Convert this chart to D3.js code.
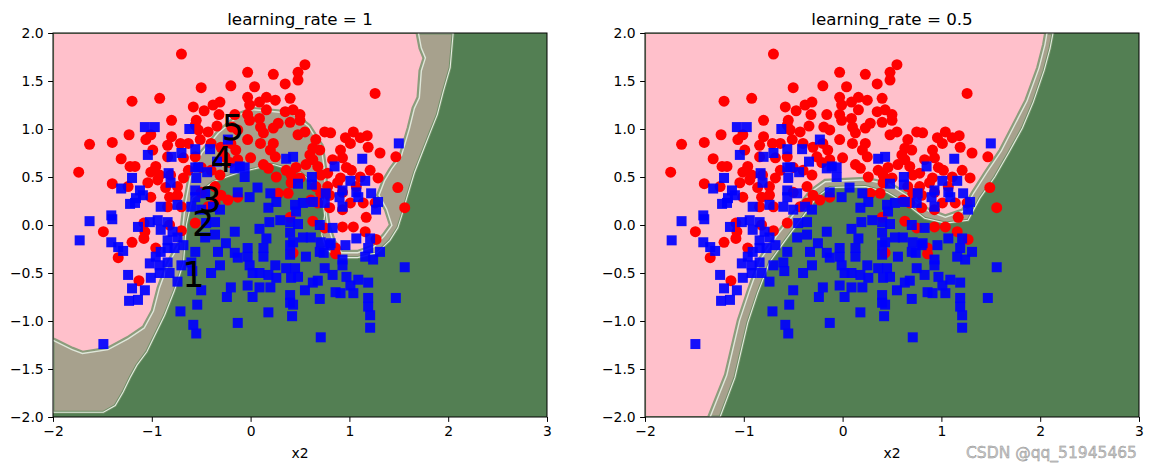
<!DOCTYPE html>
<html>
<head>
<meta charset="utf-8">
<script src="https://cdn.jsdelivr.net/npm/d3@7"></script>
<style>
  html, body { margin: 0; padding: 0; background: #ffffff; }
  svg { display: block; }
  text { font-family: "DejaVu Sans", sans-serif; }
</style>
</head>
<body>
<svg id="chart" width="1152" height="470"></svg>
<script>
// ---------------- DATA ----------------
const xTicks = [-2, -1, 0, 1, 2, 3];
const yTicks = [-2.0, -1.5, -1.0, -0.5, 0.0, 0.5, 1.0, 1.5, 2.0];
const titles = ["learning_rate = 1", "learning_rate = 0.5"];
const xLabel = "x2";

// class 0 (red circles)
const redPoints = [
  [-0.20,1.45],[-0.50,1.43],[-1.20,1.29],[-0.92,1.32],[-0.31,1.28],[-0.38,1.25],[-0.58,1.23],[-0.47,1.19],
  [-0.32,1.15],[-0.16,1.15],[-0.80,1.09],[-0.55,1.09],[-0.56,1.04],[-0.34,1.03],[-0.19,1.02],[-0.13,0.99],
  [-1.23,0.94],[-1.40,0.86],[-1.63,0.84],[-1.06,0.89],[-1.01,0.94],[-0.80,0.92],[-0.84,0.83],[-0.71,0.85],
  [-0.63,0.85],[-0.53,0.99],[-0.43,0.97],[-0.51,0.89],[-0.40,0.85],[-0.30,0.81],[-0.20,0.85],[-0.15,0.78],
  [-0.26,0.71],[-0.99,0.78],[-0.84,0.71],[-0.68,0.70],[-0.56,0.71],[-1.31,0.69],[-1.22,0.61],[-1.17,0.61],
  [-0.96,0.61],[-1.01,0.55],[-1.74,0.55],[-0.92,0.52],[-0.81,0.52],[-0.68,0.49],[-0.63,0.57],[-0.50,0.60],
  [-0.40,0.57],[-0.31,0.52],[-0.21,0.65],[-0.13,0.68],[-1.40,0.43],[-1.24,0.40],[-1.04,0.44],[-0.94,0.47],
  [-0.86,0.39],[-0.74,0.40],[-0.50,0.34],[-0.36,0.40],[-0.30,0.31],[-0.82,0.29],[-0.74,0.31],[-1.01,0.29],
  [-0.84,0.19],[-0.70,0.19],[-0.43,0.19],[-0.36,0.23],[-0.23,0.26],[-0.13,0.29],
  [-0.03,1.59],[0.23,1.57],[0.48,1.59],[0.55,1.67],[0.48,1.51],[0.35,1.47],[0.04,1.44],[1.26,1.37],
  [-0.03,1.33],[0.09,1.28],[0.16,1.33],[0.25,1.30],[0.40,1.32],[-0.01,1.25],[-0.03,1.15],[0.16,1.20],
  [0.09,1.11],[0.35,1.18],[0.43,1.20],[0.50,1.15],[0.40,1.07],[0.50,1.09],[0.28,1.06],[-0.01,1.09],
  [0.10,1.02],[0.23,1.01],[0.13,0.96],[0.55,0.97],[0.48,0.94],[-0.03,0.89],[0.10,0.85],[0.23,0.85],
  [0.20,0.78],[0.25,0.71],[0.00,0.70],[0.66,0.89],[0.75,0.97],[0.81,0.96],[1.04,0.97],[0.96,0.91],
  [1.11,0.91],[1.18,0.93],[0.63,0.80],[0.70,0.78],[0.91,0.78],[1.01,0.85],[1.19,0.81],[1.31,0.75],
  [1.47,0.71],[0.60,0.73],[0.63,0.68],[0.83,0.68],[0.93,0.70],[0.13,0.63],[0.18,0.59],[0.36,0.57],
  [0.46,0.60],[0.56,0.63],[0.68,0.61],[0.78,0.54],[0.97,0.60],[1.02,0.57],[1.21,0.57],[0.26,0.50],
  [0.41,0.52],[0.50,0.49],[0.71,0.52],[0.91,0.49],[1.11,0.50],[1.29,0.49],[0.41,0.44],[0.66,0.40],
  [0.78,0.40],[0.88,0.44],[0.93,0.34],[1.07,0.40],[1.49,0.39],[0.28,0.33],[0.38,0.33],[0.71,0.33],
  [0.80,0.31],[0.61,0.26],[0.68,0.23],[1.01,0.23],[1.14,0.23],[1.26,0.23],[1.56,0.18],[0.80,0.18],
  [0.93,0.16],
  [-1.49,-0.07],[-1.20,-0.18],[-1.08,-0.14],[-1.07,-0.07],[-1.08,0.02],[-1.34,-0.34],[-0.96,-0.24],
  [-0.82,0.00],[-0.70,-0.06],[-0.56,0.02],[-1.13,-0.58],
  [0.63,0.04],[0.75,-0.03],[0.93,-0.02],[1.04,-0.02],[1.16,-0.07],[1.27,-0.15],[0.86,-0.24],[0.86,-0.30],
  [0.43,-0.29],[1.17,0.08],[0.40,0.08],[-0.70,1.78]
];

// class 1 (blue squares)
const bluePoints = [
  [-1.07,1.02],[-0.97,1.02],[-0.62,1.00],[-0.23,0.89],[-0.41,0.79],[-0.56,0.79],[-0.70,0.75],[-0.80,0.71],
  [-1.04,0.73],[-0.34,0.66],[-0.56,0.60],[-0.53,0.60],[-0.44,0.55],[-0.16,0.59],[-0.11,0.61],[-0.83,0.54],
  [-0.55,0.49],[-0.81,0.44],[-1.20,0.49],[-1.31,0.38],[-1.12,0.36],[-1.09,0.31],[-1.16,0.28],[-1.22,0.22],
  [-1.17,0.23],[-0.91,0.19],[-0.74,0.21],[-0.56,0.36],[-0.56,0.29],[-0.46,0.33],[-0.13,0.34],[-0.60,0.19],
  [-0.50,0.16],[-0.38,0.19],[-0.31,0.16],[-1.41,0.10],
  [1.50,0.85],[0.36,0.69],[0.43,0.71],[0.85,0.61],[1.13,0.69],[-0.06,0.50],[-0.06,0.60],[0.62,0.50],
  [0.62,0.42],[0.48,0.43],[1.01,0.46],[1.16,0.46],[0.07,0.39],[-0.01,0.29],[0.20,0.33],[0.93,0.36],
  [1.07,0.34],[1.22,0.33],[0.76,0.33],[0.63,0.24],[0.75,0.23],[0.90,0.29],[0.93,0.19],[1.09,0.29],
  [1.29,0.24],[0.26,0.24],[0.45,0.21],[0.53,0.23],[0.18,0.18],[1.27,0.16],[0.46,0.14],
  [-1.63,0.04],[-1.40,0.06],[-1.73,-0.16],[-1.41,-0.18],[-1.34,-0.23],[-1.29,-0.27],[-1.14,-0.02],[-1.02,0.03],
  [-0.94,0.05],[-0.84,0.03],[-0.91,-0.05],[-0.79,-0.07],[-0.84,-0.16],[-0.74,-0.13],[-0.68,-0.21],[-0.84,-0.24],
  [-0.77,-0.24],[-0.91,-0.28],[-0.96,-0.33],[-1.02,-0.40],[-0.92,-0.42],[-0.84,-0.39],[-0.70,-0.42],[-0.60,-0.39],
  [-0.56,-0.28],[-0.46,-0.13],[-0.36,-0.10],[-0.45,0.02],[-0.36,0.03],[-0.16,-0.07],[-0.25,-0.19],[-0.33,-0.28],
  [-0.16,-0.29],[-0.31,-0.42],[-0.40,-0.50],[-0.13,-0.34],[-1.24,-0.52],[-1.01,-0.55],[-0.92,-0.50],[-0.82,-0.50],
  [-0.74,-0.59],[-0.59,-0.48],[-1.20,-0.66],[-1.07,-0.68],[-1.23,-0.79],[-1.14,-0.78],[-0.50,-0.68],[-0.20,-0.65],
  [-0.24,-0.75],[-0.54,-0.83],[-0.71,-0.90],[-0.13,-1.02],[-0.58,-1.04],[-0.55,-1.13],[-1.49,-1.24],
  [0.19,0.03],[0.30,0.05],[0.40,0.03],[0.48,0.01],[0.70,0.00],[0.83,-0.03],[0.09,-0.04],[0.16,-0.14],
  [0.40,-0.08],[0.43,-0.18],[0.53,-0.13],[0.61,-0.13],[0.71,-0.18],[0.81,-0.19],[0.96,-0.21],[1.07,-0.14],
  [1.21,-0.14],[-0.03,-0.24],[0.13,-0.24],[-0.03,-0.33],[0.13,-0.33],[0.40,-0.21],[0.40,-0.31],[0.56,-0.33],
  [0.74,-0.29],[0.80,-0.21],[0.70,-0.28],[1.19,-0.24],[1.31,-0.28],[1.24,-0.36],[1.16,-0.33],[0.93,-0.36],
  [0.93,-0.42],[0.75,-0.45],[0.25,-0.42],[0.36,-0.45],[0.45,-0.45],[-0.01,-0.42],[0.02,-0.50],[0.09,-0.50],
  [0.18,-0.52],[0.26,-0.55],[0.41,-0.55],[0.48,-0.54],[0.83,-0.52],[0.97,-0.54],[1.01,-0.63],[1.09,-0.57],
  [1.19,-0.60],[0.63,-0.60],[0.68,-0.58],[0.55,-0.68],[-0.03,-0.63],[0.09,-0.65],[0.20,-0.65],[0.86,-0.70],
  [0.91,-0.71],[1.04,-0.71],[0.40,-0.73],[0.02,-0.75],[0.40,-0.81],[0.43,-0.83],[0.70,-0.77],[1.19,-0.76],
  [1.19,-0.85],[1.21,-0.94],[1.47,-0.76],[1.56,-0.44],[0.18,-0.91],[0.42,-0.95],[1.21,-1.07],[0.71,-1.17]
];

// decision regions, learning_rate = 1 (outline of the pink region and of the pink+tan region)
const pinkEdgeLR1 = [
  [-2.00,2.00],[1.68,2.00],[1.71,1.84],[1.75,1.74],[1.71,1.61],[1.69,1.33],[1.64,1.22],[1.59,1.01],
  [1.51,0.73],[1.41,0.59],[1.34,0.47],[1.28,0.31],[1.36,0.16],[1.41,0.00],[1.34,-0.10],[1.24,-0.21],
  [1.08,-0.27],[0.93,-0.27],[0.85,-0.16],[0.80,0.00],[0.77,0.21],[0.77,0.55],[0.73,0.83],[0.60,1.04],
  [0.43,1.18],[0.02,1.22],[-0.11,1.17],[-0.34,0.97],[-0.51,0.76],[-0.63,0.49],[-0.68,0.21],[-0.72,-0.16],
  [-0.85,-0.40],[-0.94,-0.65],[-1.00,-0.89],[-1.09,-1.06],[-1.25,-1.17],[-1.45,-1.28],[-1.70,-1.32],
  [-1.80,-1.28],[-2.00,-1.18]
];
const bandEdgeLR1 = [
  [-2.00,2.00],[2.05,2.00],[2.02,1.64],[1.95,1.39],[1.89,1.15],[1.82,0.97],[1.74,0.76],[1.66,0.55],
  [1.58,0.28],[1.53,0.10],[1.49,-0.03],[1.41,-0.16],[1.28,-0.29],[1.08,-0.34],[0.90,-0.34],[0.77,-0.26],
  [0.72,-0.10],[0.75,0.10],[0.72,0.36],[0.50,0.55],[0.23,0.63],[-0.11,0.55],[-0.38,0.45],[-0.59,0.28],
  [-0.65,0.00],[-0.68,-0.40],[-0.77,-0.68],[-0.87,-0.94],[-0.97,-1.15],[-1.05,-1.32],[-1.15,-1.46],
  [-1.22,-1.59],[-1.29,-1.74],[-1.37,-1.88],[-1.49,-1.95],[-2.00,-1.95]
];

// decision regions, learning_rate = 0.5
const pinkEdgeLR05 = [
  [-2.00,2.00],[2.05,2.00],[2.03,1.88],[1.97,1.64],[1.85,1.30],[1.72,1.04],[1.59,0.78],[1.44,0.55],
  [1.31,0.34],[1.21,0.16],[1.04,0.10],[0.88,0.16],[0.68,0.31],[0.48,0.44],[0.23,0.49],[-0.18,0.47],
  [-0.33,0.36],[-0.48,0.16],[-0.68,-0.10],[-0.84,-0.34],[-0.96,-0.68],[-1.06,-0.99],[-1.19,-1.56],
  [-1.36,-2.00],[-2.00,-2.00]
];
const bandEdgeLR05 = [
  [-2.00,2.00],[2.13,2.00],[2.10,1.84],[2.04,1.61],[1.93,1.28],[1.82,1.01],[1.68,0.75],[1.54,0.50],
  [1.39,0.28],[1.27,0.05],[1.04,0.02],[0.83,0.07],[0.63,0.23],[0.45,0.34],[0.23,0.40],[-0.13,0.39],
  [-0.26,0.29],[-0.40,0.09],[-0.58,-0.16],[-0.74,-0.39],[-0.86,-0.71],[-0.96,-1.02],[-1.09,-1.59],
  [-1.24,-2.00],[-2.00,-2.00]
];

// numbered annotations on the first panel
const annoLabels = ["1", "2", "3", "4", "5"];
const annoX = [-0.58, -0.48, -0.41, -0.29, -0.18];
const annoY = [-0.65, -0.11, 0.14, 0.55, 0.89];

const watermark = "CSDN @qq_51945465";

// ---------------- DRAWING ----------------
const svg = d3.select("#chart");
const COL_PINK = "#ffc0cb", COL_TAN = "#a7a18d", COL_GREEN = "#537f53";

const panels = [
  { x0: 53, x1: 547, title: titles[0], pink: pinkEdgeLR1, band: bandEdgeLR1, anno: true },
  { x0: 645, x1: 1139, title: titles[1], pink: pinkEdgeLR05, band: bandEdgeLR05, anno: false }
];
const yTop = 33, yBot = 417;

panels.forEach((p, i) => {
  const x = d3.scaleLinear().domain([-2, 3]).range([p.x0, p.x1]);
  const y = d3.scaleLinear().domain([-2, 2]).range([yBot, yTop]);
  const g = svg.append("g");
  const clipId = "clip" + i;
  svg.append("defs").append("clipPath").attr("id", clipId)
    .append("rect").attr("x", p.x0).attr("y", yTop).attr("width", p.x1 - p.x0).attr("height", yBot - yTop);
  const area = g.append("g").attr("clip-path", `url(#${clipId})`);

  area.append("rect").attr("x", p.x0).attr("y", yTop).attr("width", p.x1 - p.x0).attr("height", yBot - yTop)
    .attr("fill", COL_GREEN);
  const lineL = d3.line().x(d => x(d[0])).y(d => y(d[1]));

  // band (tan) region
  area.append("path").attr("d", lineL(p.band) + "Z").attr("fill", COL_TAN)
    .attr("stroke", "#6f8f66").attr("stroke-width", 3);
  area.append("path").attr("d", lineL(p.band) + "Z").attr("fill", "none")
    .attr("stroke", "#e4ece0").attr("stroke-width", 1.1);
  // pink region
  area.append("path").attr("d", lineL(p.pink) + "Z").attr("fill", COL_TAN)
    .attr("stroke", "#dfe7da").attr("stroke-width", 5);
  area.append("path").attr("d", lineL(p.pink) + "Z").attr("fill", COL_PINK)
    .attr("stroke", "#8c9c7c").attr("stroke-width", 2.2);

  // points
  area.append("g").selectAll("circle").data(redPoints).join("circle")
    .attr("cx", d => x(d[0])).attr("cy", d => y(d[1])).attr("r", 5.5)
    .attr("fill", "#ff0000");
  area.append("g").selectAll("rect").data(bluePoints).join("rect")
    .attr("x", d => x(d[0]) - 5).attr("y", d => y(d[1]) - 5).attr("width", 10).attr("height", 10)
    .attr("fill", "#0000ff").attr("fill-opacity", 0.92);

  if (p.anno) {
    area.append("g").selectAll("text").data(annoLabels).join("text")
      .attr("x", (d, k) => x(annoX[k])).attr("y", (d, k) => y(annoY[k]))
      .attr("text-anchor", "middle").attr("font-size", 35).attr("fill", "#000")
      .text(d => d);
  }

  // frame
  g.append("rect").attr("x", p.x0).attr("y", yTop).attr("width", p.x1 - p.x0).attr("height", yBot - yTop)
    .attr("fill", "none").attr("stroke", "#000").attr("stroke-width", 1);

  // axes
  const xAxis = d3.axisBottom(x).tickValues(xTicks).tickSize(4.9).tickPadding(4.4)
    .tickFormat(d => d3.format("d")(d).replace("-", "\u2212"));
  const gx = g.append("g").attr("transform", `translate(0,${yBot})`).call(xAxis);
  const yAxis = d3.axisLeft(y).tickValues(yTicks).tickSize(4.9).tickPadding(4.4)
    .tickFormat(d => d3.format(".1f")(d).replace("-", "\u2212"));
  const gy = g.append("g").attr("transform", `translate(${p.x0},0)`).call(yAxis);
  [gx, gy].forEach(a => {
    a.select(".domain").remove();
    a.selectAll("text").attr("font-size", 13.9).attr("fill", "#000").attr("font-family", "DejaVu Sans");
    a.selectAll("line").attr("stroke", "#000");
  });

  g.append("text").attr("x", (p.x0 + p.x1) / 2).attr("y", 25).attr("text-anchor", "middle")
    .attr("font-size", 16.7).attr("fill", "#000").text(p.title);
  g.append("text").attr("x", (p.x0 + p.x1) / 2).attr("y", 458).attr("text-anchor", "middle")
    .attr("font-size", 13.9).attr("fill", "#000").text(xLabel);
});

svg.append("text").attr("x", 1137).attr("y", 458).attr("text-anchor", "end")
  .attr("font-size", 15.5).attr("font-family", "Noto Sans, sans-serif")
  .attr("fill", "#c9c9c9").attr("stroke", "#8a8a8a").attr("stroke-width", 0.4)
  .text(watermark);
</script>
</body>
</html>
